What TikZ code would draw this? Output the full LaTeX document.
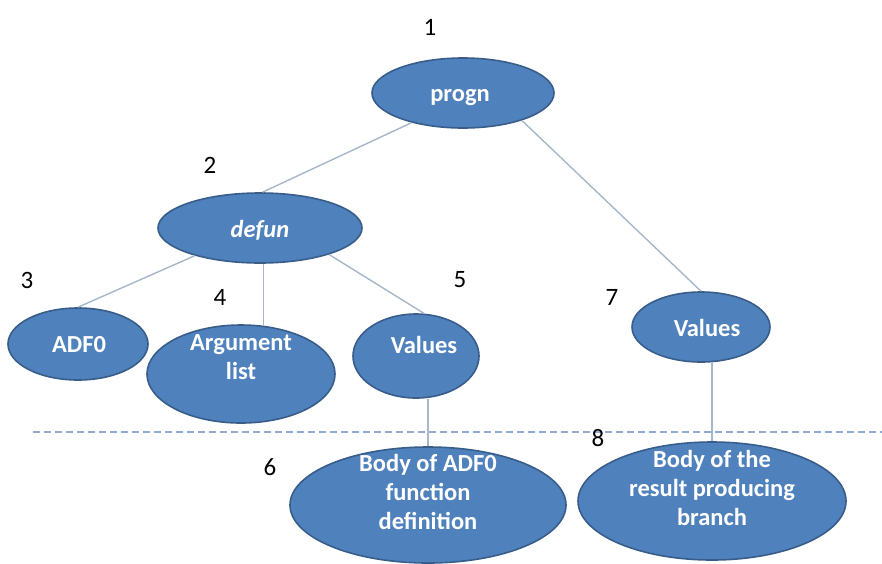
\documentclass[tikz,border=0pt]{standalone}
\usepackage{fontspec}
\setmainfont{Carlito}
\usetikzlibrary{shapes.geometric}
\definecolor{nodefill}{HTML}{4F81BD}
\definecolor{nodeedge}{HTML}{385D8A}
\definecolor{linkcol}{HTML}{A7B6C9}
\definecolor{splitcol}{HTML}{8EAAD6}

\begin{document}
\begin{tikzpicture}[x=1pt,y=-1pt,
  blob/.style={ellipse, fill=nodefill, draw=nodeedge, line width=1.6pt, inner sep=0pt},
  lbl/.style={text=white, font=\fontsize{24.5}{29}\selectfont\bfseries, align=center, inner sep=0pt},
  num/.style={font=\fontsize{25}{28}\selectfont, inner sep=0pt},
  link/.style={draw=linkcol, line width=1.4pt},
  split/.style={draw=splitcol, line width=1.3pt, dash pattern=on 7pt off 4pt}]
\useasboundingbox (0,0) rectangle (882,563);

% tree nodes
\node[blob, minimum width=182pt, minimum height=70pt] (progn) at (463,93) {};
\node[blob, minimum width=204pt, minimum height=70pt] (defun) at (260,228) {};
\node[blob, minimum width=140pt, minimum height=72pt] (adf) at (78,344) {};
\node[blob, minimum width=188pt, minimum height=98pt] (arg) at (241,374) {};
\node[blob, minimum width=126pt, minimum height=84pt] (valA) at (416,356) {};
\node[blob, minimum width=138pt, minimum height=70pt] (valB) at (701,327) {};
\node[blob, minimum width=276pt, minimum height=116pt] (bodyA) at (428,505) {};
\node[blob, minimum width=268pt, minimum height=118pt] (bodyB) at (712,501) {};

% node texts
\node[lbl] (prognT) at (460,98) {progn};
\node[lbl] (defunT) at (260,230) {\itshape defun};
\node[lbl] (adfT) at (79,345) {ADF0};
\node[lbl] (argT) at (241,357) {Argument\\list};
\node[lbl] (valAT) at (424,345) {Values};
\node[lbl] (valBT) at (707,328) {Values};
\node[lbl] (bodyAT) at (428,492) {Body of ADF0\\function\\definition};
\node[lbl] (bodyBT) at (712,488) {Body of the\\result producing\\branch};

% connectors
\draw[link] (progn.210) -- (defun.86);
\draw[link] (progn.335) -- (valB.north);
\draw[link] (defun.203) -- (adf.north);
\draw[link] (arg.65 |- defun.south) -- (arg.65);
\draw[link] (defun.339) -- (valA.79);
\draw[link] (bodyA.north |- valA.south) -- (bodyA.north);
\draw[link] (bodyB.north |- valB.south) -- (bodyB.north);

% separator
\coordinate (sepL) at (33,432);
\coordinate (sepR) at (882,432);
\draw[split] (sepL) -- (sepR);

% node numbers
\node[num] (n1) at (430,27) {1};
\node[num] (n2) at (210,165) {2};
\node[num] (n3) at (27,280) {3};
\node[num] (n4) at (220,297) {4};
\node[num] (n5) at (460,280) {5};
\node[num] (n6) at (270,467) {6};
\node[num] (n7) at (612,297) {7};
\node[num] (n8) at (598,438) {8};
\end{tikzpicture}
\end{document}
